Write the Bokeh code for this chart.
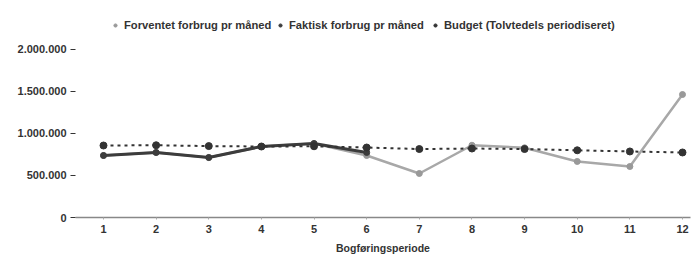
from bokeh.plotting import figure
from bokeh.models import FixedTicker, Legend, LegendItem, Range1d
from bokeh.embed import file_html
from bokeh.resources import INLINE

months = list(range(1, 13))
forventet = [738000, 774000, 714000, 845000, 880000, 738000, 524000, 860000, 830000, 667000, 607000, 1464000]
faktisk_months = [1, 2, 3, 4, 5, 6]
faktisk = [738000, 774000, 714000, 845000, 880000, 774000]
budget = [857000, 860000, 850000, 845000, 848000, 833000, 815000, 821000, 815000, 800000, 786000, 774000]

y_ticks = [0, 500000, 1000000, 1500000, 2000000]
y_labels = ["0", "500.000", "1.000.000", "1.500.000", "2.000.000"]
legend_labels = ["Forventet forbrug pr måned", "Faktisk forbrug pr måned", "Budget (Tolvtedels periodiseret)"]
x_title = "Bogføringsperiode"

FONT = "Liberation Sans"

p = figure(width=695, height=257, output_backend="svg", toolbar_location=None,
           x_range=Range1d(0.468, 12.152), y_range=Range1d(0, 2464000),
           min_border_left=75, min_border_right=5, min_border_top=10, min_border_bottom=40)
p.outline_line_color = None
p.xgrid.grid_line_color = None
p.ygrid.grid_line_color = None
p.background_fill_color = "white"

c_forv = "#a8a8a8"
c_fakt = "#3c3c3c"
c_bud = "#333333"

l1 = p.line(months, forventet, line_color=c_forv, line_width=2.5)
m1 = p.scatter(months, forventet, size=6, fill_color="#999999", line_color="#999999")
l2 = p.line(faktisk_months, faktisk, line_color=c_fakt, line_width=3)
m2 = p.scatter(faktisk_months, faktisk, size=6, fill_color=c_fakt, line_color=c_fakt)
l3 = p.line(months, budget, line_color=c_bud, line_width=2, line_dash="3 4")
m3 = p.scatter(months, budget, size=7, fill_color=c_bud, line_color=c_bud)

# one single-item legend per series, placed side by side above the data
legend_x = [36, 201, 356]
for lab, rend, lx in zip(legend_labels, [m1, m2, m3], legend_x):
    lg = Legend(items=[LegendItem(label=lab, renderers=[rend])],
                location=(lx, 185), orientation="horizontal")
    lg.border_line_color = None
    lg.background_fill_alpha = 0
    lg.label_text_font = FONT
    lg.label_text_font_style = "bold"
    lg.label_text_font_size = "11.2px"
    lg.label_text_color = "#333333"
    lg.glyph_width = 8
    lg.glyph_height = 14
    lg.label_height = 14
    lg.label_standoff = 5
    lg.spacing = 0
    lg.padding = 3
    lg.margin = 0
    p.add_layout(lg)

p.yaxis.ticker = FixedTicker(ticks=y_ticks)
p.yaxis.major_label_overrides = {t: l for t, l in zip(y_ticks, y_labels)}
p.yaxis.axis_line_color = None
p.yaxis.minor_tick_line_color = None
p.yaxis.major_tick_in = 0
p.yaxis.major_tick_out = 5
p.yaxis.major_tick_line_color = "#333333"
p.yaxis.major_label_standoff = 4
p.yaxis.major_label_text_font = FONT
p.yaxis.major_label_text_font_style = "bold"
p.yaxis.major_label_text_font_size = "11px"
p.yaxis.major_label_text_color = "#333333"

p.xaxis.ticker = FixedTicker(ticks=months)
p.xaxis.axis_line_color = "#888888"
p.xaxis.axis_line_width = 1.5
p.xaxis.minor_tick_line_color = None
p.xaxis.major_tick_in = 0
p.xaxis.major_tick_out = 2
p.xaxis.major_tick_line_color = "#aaaaaa"
p.xaxis.major_label_standoff = 5
p.xaxis.major_label_text_font = FONT
p.xaxis.major_label_text_font_style = "bold"
p.xaxis.major_label_text_font_size = "11px"
p.xaxis.major_label_text_color = "#333333"
p.xaxis.axis_label = x_title
p.xaxis.axis_label_standoff = 6
p.xaxis.axis_label_text_font = FONT
p.xaxis.axis_label_text_font_style = "bold"
p.xaxis.axis_label_text_font_size = "10.5px"
p.xaxis.axis_label_text_color = "#333333"

open("out.html", "w").write(file_html(p, INLINE))
